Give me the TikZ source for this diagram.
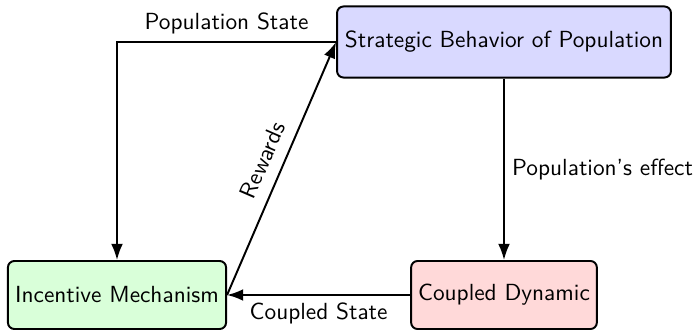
\documentclass[tikz,border=0pt]{standalone}
\usetikzlibrary{arrows.meta}
\begin{document}
\begin{tikzpicture}[x=0.463pt,y=-0.463pt, font=\sffamily\fontsize{10.8}{13}\selectfont,
  box/.style={draw, line width=0.9pt, rounded corners=3pt, align=center, inner sep=0pt},
  conn/.style={line width=0.9pt, -{Latex[length=7.5pt,width=5.5pt]}}]
\useasboundingbox (0,0) rectangle (694,331);
\node[box, fill=blue!15, minimum width=154.6pt, minimum height=32.9pt] (S) at (504,42) {Strategic Behavior of Population};
\node[box, fill=green!15, minimum width=101pt, minimum height=31.5pt] (I) at (117,295) {Incentive Mechanism};
\node[box, fill=red!15, minimum width=86pt, minimum height=31.5pt] (C) at (504,295) {Coupled Dynamic};
\draw[conn] (S.west) -| node[above, pos=0.25] {Population State} (I.north);
\draw[conn] (S.south) -- node[right] {Population's effect} (C.north);
\draw[conn] (C.west) -- node[below] {Coupled State} (I.east);
\draw[conn] (I.east) -- node[above=2pt, sloped] {Rewards} (S.west);
\end{tikzpicture}
\end{document}
